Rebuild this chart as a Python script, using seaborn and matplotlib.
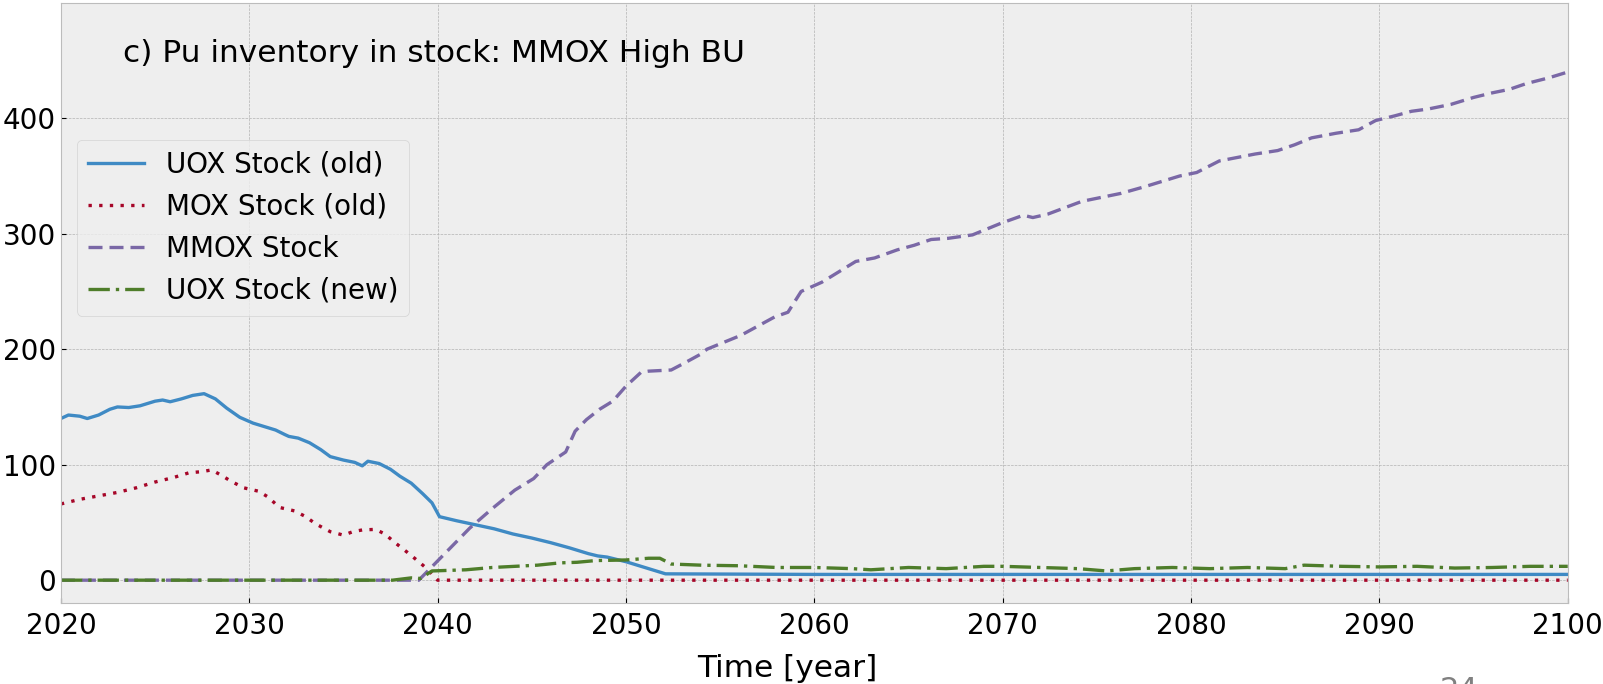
import matplotlib
matplotlib.use("Agg")
import matplotlib.pyplot as plt
import seaborn as sns

# Pu inventory in stock (MMOX high burn-up scenario)
years_uox_old = [2020, 2020.4, 2021, 2021.4, 2022, 2022.6, 2023, 2023.6, 2024.2, 2025,
                 2025.4, 2025.8, 2026.4, 2027, 2027.6, 2028.2, 2028.8, 2029.5, 2030.2, 2030.8,
                 2031.4, 2031.9, 2032.1, 2032.6, 2033.2, 2033.8, 2034.3, 2035, 2035.6, 2036,
                 2036.3, 2036.9, 2037.5, 2038, 2038.6, 2039.2, 2039.7, 2040.1, 2041, 2042,
                 2043, 2044, 2045, 2046, 2047, 2048, 2048.5, 2049, 2050, 2051,
                 2052.1, 2060, 2070, 2080, 2090, 2100]
uox_old = [140, 143, 142, 140, 143, 148, 150, 149.5, 151, 155,
           156, 154.5, 157, 160, 161.5, 157, 149, 141, 136, 133,
           130, 126, 124.5, 123, 119, 113, 107, 104, 102, 99,
           103, 101, 96, 90, 84, 75, 67, 55, 51.5, 48,
           44.5, 40, 36.5, 32.5, 28, 23, 21, 20, 16, 11,
           5.5, 5, 5, 5, 5, 5]

years_mox_old = [2020, 2021, 2022, 2023, 2024, 2025, 2026, 2026.8, 2027.5, 2028,
                 2028.5, 2029, 2029.7, 2030.5, 2031, 2031.6, 2032.4, 2033, 2033.5, 2034.3,
                 2035, 2035.5, 2036, 2036.7, 2037.2, 2037.7, 2038.4, 2039, 2039.5, 2040,
                 2100]
mox_old = [66, 70, 73, 76, 80, 85, 89, 93, 94, 95.5,
           91, 86, 80, 77, 72, 63, 60, 55, 49, 42,
           39, 42, 43.5, 44, 40, 33, 24, 16, 9, 0,
           0]

years_mmox = [2020, 2039, 2039.6, 2040.5, 2041.7, 2042.9, 2044.1, 2045.1, 2045.8, 2046.8,
              2047.3, 2047.9, 2048.6, 2049.3, 2050, 2050.8, 2051.2, 2052.4, 2053.1, 2054,
              2054.3, 2056.1, 2057.9, 2058.6, 2059.3, 2060.4, 2061.3, 2062.2, 2063.2, 2064.4,
              2065.3, 2066.2, 2067.1, 2068.4, 2069.9, 2071.1, 2071.6, 2072.4, 2074.2, 2075.4,
              2076.3, 2077.6, 2079.4, 2080.3, 2081.5, 2083.4, 2084.6, 2085.5, 2086.4, 2087.7,
              2088.9, 2089.8, 2090.8, 2091.7, 2092.6, 2093.8, 2095, 2096, 2096.9, 2097.8,
              2099, 2100]
mmox = [0, 0, 10, 25, 45, 62, 78, 88, 100, 111,
        129, 139, 148, 155, 168, 180, 181, 182, 188, 196,
        200, 212, 228, 232, 250, 258, 267, 276, 279, 286,
        290, 295, 296, 299, 309, 316, 314, 317, 328, 332,
        335, 341, 350, 353, 363, 369, 372, 377, 383, 387,
        390, 398, 402, 406, 408, 412, 418, 422, 425, 430,
        435, 440]

years_uox_new = [2020, 2037.6, 2038.6, 2039.1, 2039.7, 2041.5, 2042.9, 2044.1, 2045.3, 2046.5,
                 2047.4, 2048.4, 2050, 2051.2, 2051.8, 2052.4, 2054, 2056, 2058, 2060,
                 2062, 2063, 2065, 2067, 2069, 2070, 2072, 2074, 2075.5, 2077,
                 2079, 2081, 2083, 2085, 2086, 2088, 2090, 2092, 2094, 2096,
                 2098, 2100]
uox_new = [0, 0, 2, 1.5, 8, 9, 11, 12, 13, 15,
           15.5, 17, 17.5, 19, 19, 14, 13, 12.5, 11, 11,
           10, 9, 11, 10, 12, 12, 11, 10, 8, 10,
           11, 10, 11, 10, 13, 12, 11.5, 12, 10.5, 11,
           12, 12]

labels = ["UOX Stock (old)", "MOX Stock (old)", "MMOX Stock", "UOX Stock (new)"]
title = "c) Pu inventory in stock: MMOX High BU"
x_ticks = [2020, 2030, 2040, 2050, 2060, 2070, 2080, 2090, 2100]
y_ticks = [0, 100, 200, 300, 400]

plt.style.use("bmh")
plt.rcParams["font.family"] = ["DejaVu Sans"]
plt.rcParams["font.size"] = 20

fig = plt.figure(figsize=(16.03, 6.84), dpi=100)
ax = fig.add_axes([0.038, 0.118, 0.940, 0.878])

series = [
    (years_uox_old, uox_old, "#3F8AC4", "-"),
    (years_mox_old, mox_old, "#A60628", (0, (1, 2.2))),
    (years_mmox, mmox, "#7A68A6", (0, (4.2, 2.1))),
    (years_uox_new, uox_new, "#4E7D2A", (0, (6.4, 1.8, 1, 1.8))),
]
for (xs, ys, col, ls), lab in zip(series, labels):
    sns.lineplot(x=xs, y=ys, ax=ax, color=col, linestyle=ls, linewidth=2.4,
                 label=lab, errorbar=None, sort=False)

ax.set_xlim(2020, 2100)
ax.set_ylim(-20, 500)
ax.set_xticks(x_ticks)
ax.set_yticks(y_ticks)
ax.tick_params(labelsize=20)
ax.tick_params(axis="x", pad=6)
ax.set_xlabel("Time [year]", fontsize=22.5)
ax.xaxis.set_label_coords(0.482, -0.085)

ax.text(0.041, 0.915, title, transform=ax.transAxes, fontsize=22.5, va="center", ha="left")

ax.legend(loc="upper left", bbox_to_anchor=(0.0106, 0.772), borderaxespad=0,
          fontsize=20, fancybox=True, framealpha=0.8, handlelength=2.0)

fig.text(0.91, 0.012, "24", fontsize=22, color="#808080", ha="center", va="top")

fig.savefig("out.png", dpi=100)
